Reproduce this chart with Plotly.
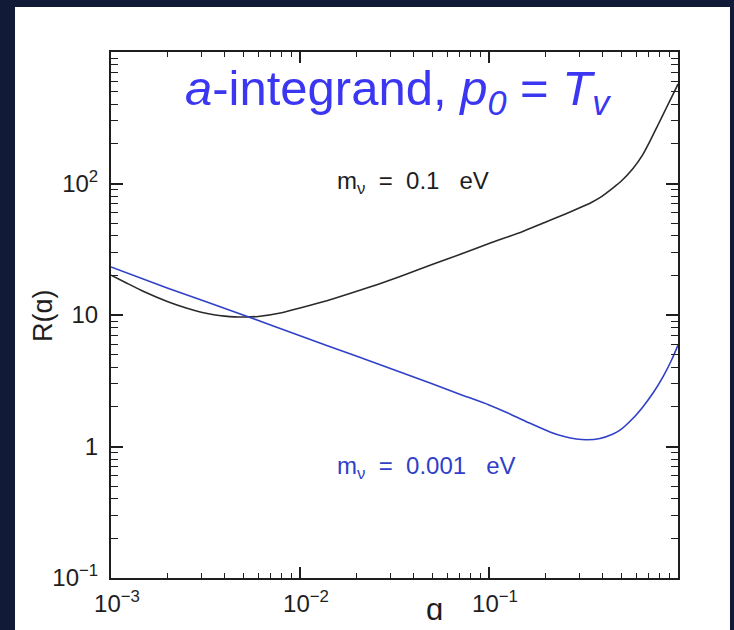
import plotly.graph_objects as go

# Scale factor a and ratio R(a) for the two neutrino masses
a_heavy = [0.001, 0.0012, 0.0015, 0.002, 0.0025, 0.003, 0.0035, 0.004, 0.0045,
           0.005, 0.006, 0.008, 0.01, 0.015, 0.0234, 0.035, 0.05, 0.07, 0.1,
           0.15, 0.2, 0.25, 0.3, 0.35, 0.386, 0.45, 0.5, 0.578, 0.65, 0.711,
           0.78, 0.871, 0.93, 1.0]
R_heavy = [20.1, 17.6, 15.0, 12.6, 11.3, 10.5, 10.05, 9.8, 9.68,
           9.65, 9.75, 10.4, 11.3, 13.3, 16.3, 20.0, 24.2, 28.8, 35.0,
           43.0, 51.0, 58.0, 65.0, 72.0, 78.0, 92.0, 104.0, 130.0, 165.0, 210.0,
           275.0, 380.0, 460.0, 570.0]

a_light = [0.001, 0.002, 0.005, 0.01, 0.02, 0.05, 0.07, 0.1, 0.13, 0.165, 0.21,
           0.25, 0.29, 0.33, 0.386, 0.45, 0.493, 0.578, 0.653, 0.738, 0.834,
           0.925, 1.0]
R_light = [23.2, 16.0, 10.0, 6.95, 4.85, 3.0, 2.5, 2.07, 1.76, 1.5, 1.29,
           1.19, 1.14, 1.125, 1.15, 1.24, 1.33, 1.64, 2.01, 2.55, 3.4,
           4.55, 5.9]

x_tickvals = [1e-3, 1e-2, 1e-1]
x_ticktext = ["10<sup>−3</sup>", "10<sup>−2</sup>", "10<sup>−1</sup>"]
y_tickvals = [0.1, 1, 10, 100]
y_ticktext = ["10<sup>−1</sup>", "1", "10", "10<sup>2</sup>"]

x_minor = [k * 10.0 ** e for e in (-3, -2, -1) for k in range(2, 10)]
y_minor = [k * 10.0 ** e for e in (-1, 0, 1, 2) for k in range(2, 10)]

FONT = "Liberation Sans, Arial, Helvetica, sans-serif"
INK = "#1e1e1e"
BLUE_LINE = "#3040c8"
TICK_FONT = dict(family=FONT, size=24, color=INK)

fig = go.Figure()
fig.add_trace(go.Scatter(x=a_heavy, y=R_heavy, mode="lines",
                         line=dict(color="#2a2a2a", width=1.6, shape="spline", smoothing=0.6),
                         showlegend=False))
fig.add_trace(go.Scatter(x=a_light, y=R_light, mode="lines",
                         line=dict(color=BLUE_LINE, width=1.6, shape="spline", smoothing=0.6),
                         showlegend=False))

axis_common = dict(
    type="log", showgrid=False, zeroline=False,
    showline=True, linecolor=INK, linewidth=2, mirror="allticks",
    ticks="inside", tickcolor=INK, tickwidth=1.5,
)

fig.update_layout(
    xaxis=dict(**axis_common, range=[-3, 0], tickmode="array",
               tickvals=x_tickvals, ticktext=x_ticktext, tickfont=TICK_FONT,
               ticklen=11, ticklabelstandoff=3, ticklabelshift=6,
               minor=dict(tickmode="array", tickvals=x_minor, ticks="inside",
                          ticklen=5, tickwidth=1.3, tickcolor=INK, showgrid=False)),
    yaxis=dict(**axis_common, range=[-1, 3], tickmode="array",
               tickvals=y_tickvals, ticktext=y_ticktext, tickfont=TICK_FONT,
               ticklen=12, ticklabelstandoff=6,
               minor=dict(tickmode="array", tickvals=y_minor, ticks="inside",
                          ticklen=7, tickwidth=1.3, tickcolor=INK, showgrid=False)),
)

annotations = [
    dict(text="<i>a</i>-integrand, <i>p<sub>0</sub></i> = <i>T<sub>v</sub></i>",
         x=0.507, y=0.925, xanchor="center",
         font=dict(family=FONT, size=49, color="#3a36f2")),
    dict(text="m<sub>ν</sub>  =  0.1   eV", x=0.395, y=0.751, xanchor="left",
         font=dict(family=FONT, size=24, color=INK)),
    dict(text="m<sub>ν</sub>  =  0.001   eV", x=0.395, y=0.211, xanchor="left",
         font=dict(family=FONT, size=24, color=BLUE_LINE)),
    dict(text="ɑ", x=0.571, y=-0.06, xanchor="center",
         font=dict(family=FONT, size=31, color=INK)),
    dict(text="R(ɑ)", x=-0.12, y=0.5, xanchor="center", textangle=-90,
         font=dict(family=FONT, size=27, color=INK)),
]
for ann in annotations:
    ann.update(xref="paper", yref="paper", showarrow=False, yanchor="middle")

fig.update_layout(
    width=734, height=630,
    margin=dict(l=111, r=56, t=52, b=52),
    font=dict(family=FONT, size=24, color=INK),
    paper_bgcolor="#111b38", plot_bgcolor="white",
    annotations=annotations,
    shapes=[dict(type="rect", xref="paper", yref="paper", layer="below",
                 x0=-0.1693, x1=1.0917, y0=-0.2, y1=1.0856,
                 fillcolor="white", line=dict(width=0))],
)

fig.write_html("out.html")
